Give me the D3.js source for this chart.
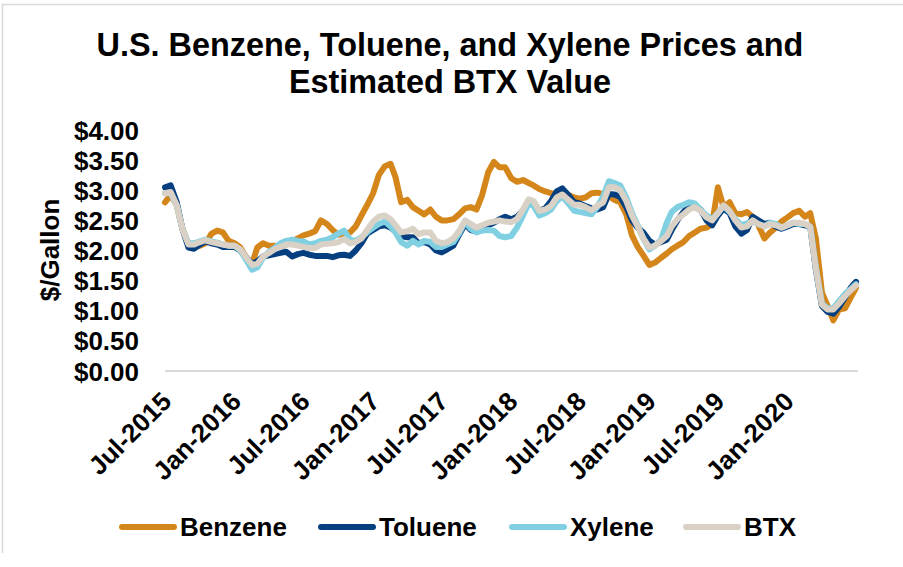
<!DOCTYPE html>
<html><head><meta charset="utf-8">
<script src="https://cdn.jsdelivr.net/npm/d3@7"></script>
<style>
body{margin:0;background:#fff}
svg{display:block}
text{font-family:"Liberation Sans",Arial,sans-serif;font-weight:bold;fill:#000}
</style>
</head><body>
<svg id="c" width="903" height="567"></svg>
<script>
const titleLines = ["U.S. Benzene, Toluene, and Xylene Prices and", "Estimated BTX Value"];
const yAxisTitle = "$/Gallon";
const yTicks = [0, 0.5, 1, 1.5, 2, 2.5, 3, 3.5, 4];
const xTickLabels = ["Jul-2015","Jan-2016","Jul-2016","Jan-2017","Jul-2017","Jan-2018","Jul-2018","Jan-2019","Jul-2019","Jan-2020"];
const seriesNames = ["Benzene","Toluene","Xylene","BTX"];
const seriesColors = ["#D4861A","#063F80","#80D0E2","#D9D1C5"];

const dates = [
"2015-07-01","2015-07-16","2015-08-01","2015-08-16","2015-09-01","2015-09-16","2015-10-01","2015-10-16","2015-11-01","2015-11-16","2015-12-01","2015-12-16",
"2016-01-01","2016-01-16","2016-02-01","2016-02-16","2016-03-01","2016-03-16","2016-04-01","2016-04-16","2016-05-01","2016-05-16","2016-06-01","2016-06-16",
"2016-07-01","2016-07-16","2016-08-01","2016-08-16","2016-09-01","2016-09-16","2016-10-01","2016-10-16","2016-11-01","2016-11-16","2016-12-01","2016-12-16",
"2017-01-01","2017-01-16","2017-02-01","2017-02-16","2017-03-01","2017-03-16","2017-04-01","2017-04-16","2017-05-01","2017-05-16","2017-06-01","2017-06-16",
"2017-07-01","2017-07-16","2017-08-01","2017-08-16","2017-09-01","2017-09-16","2017-10-01","2017-10-16","2017-11-01","2017-11-16","2017-12-01","2017-12-16",
"2018-01-01","2018-01-16","2018-02-01","2018-02-16","2018-03-01","2018-03-16","2018-04-01","2018-04-16","2018-05-01","2018-05-16","2018-06-01","2018-06-16",
"2018-07-01","2018-07-16","2018-08-01","2018-08-16","2018-09-01","2018-09-16","2018-10-01","2018-10-16","2018-11-01","2018-11-16","2018-12-01","2018-12-16",
"2019-01-01","2019-01-16","2019-02-01","2019-02-16","2019-03-01","2019-03-16","2019-04-01","2019-04-16","2019-05-01","2019-05-16","2019-06-01","2019-06-16",
"2019-07-01","2019-07-16","2019-08-01","2019-08-16","2019-09-01","2019-09-16","2019-10-01","2019-10-16","2019-11-01","2019-11-16","2019-12-01","2019-12-16",
"2020-01-01","2020-01-16","2020-02-01","2020-02-16","2020-03-01","2020-03-16","2020-04-01","2020-04-16","2020-05-01","2020-05-16","2020-06-01","2020-06-16",
"2020-06-30"];

const benzene = [
2.80,2.92,2.75,2.36,2.10,2.08,2.08,2.12,2.28,2.33,2.30,2.16,
2.12,2.05,1.88,1.78,2.05,2.12,2.08,2.08,2.06,2.10,2.15,2.20,
2.25,2.28,2.32,2.50,2.44,2.34,2.26,2.28,2.30,2.40,2.58,2.75,
2.95,3.25,3.40,3.44,3.22,2.80,2.84,2.72,2.66,2.60,2.68,2.56,
2.50,2.50,2.52,2.60,2.70,2.72,2.68,2.92,3.30,3.47,3.38,3.38,
3.20,3.14,3.17,3.12,3.08,3.02,2.98,2.95,2.94,2.93,2.92,2.88,
2.86,2.88,2.95,2.96,2.94,2.90,2.84,2.80,2.60,2.25,2.06,1.92,
1.76,1.80,1.88,1.95,2.02,2.08,2.14,2.24,2.30,2.36,2.38,2.44,
3.05,2.72,2.80,2.62,2.60,2.64,2.56,2.42,2.20,2.30,2.38,2.48,
2.55,2.62,2.66,2.56,2.62,2.20,1.30,1.08,0.84,1.02,1.04,1.22,
1.38];

const toluene = [
3.05,3.08,2.80,2.36,2.05,2.03,2.10,2.15,2.12,2.10,2.06,2.06,
2.06,2.00,1.88,1.78,1.82,1.90,1.92,1.94,1.96,1.98,1.90,1.94,
1.96,1.93,1.91,1.91,1.91,1.89,1.92,1.93,1.91,2.00,2.12,2.28,
2.34,2.40,2.42,2.38,2.32,2.24,2.22,2.22,2.12,2.14,2.10,2.00,
1.97,2.02,2.08,2.26,2.44,2.34,2.32,2.36,2.42,2.46,2.52,2.56,
2.52,2.56,2.66,2.82,2.80,2.66,2.70,2.82,2.98,3.03,2.92,2.80,
2.78,2.74,2.70,2.68,2.72,2.94,2.93,2.89,2.72,2.50,2.38,2.30,
2.16,2.10,2.14,2.18,2.34,2.50,2.64,2.74,2.74,2.68,2.50,2.42,
2.58,2.70,2.62,2.40,2.28,2.34,2.56,2.50,2.44,2.46,2.40,2.36,
2.40,2.44,2.44,2.42,2.40,1.68,1.08,0.98,0.95,1.06,1.22,1.38,
1.48];

const xylene = [
2.95,2.95,2.75,2.36,2.12,2.12,2.15,2.18,2.15,2.13,2.10,2.08,
2.08,2.00,1.84,1.68,1.72,1.88,1.98,2.04,2.12,2.16,2.18,2.16,
2.15,2.10,2.12,2.16,2.18,2.22,2.28,2.33,2.18,2.16,2.22,2.30,
2.38,2.44,2.48,2.40,2.30,2.14,2.08,2.16,2.10,2.16,2.14,2.06,
2.06,2.10,2.14,2.28,2.48,2.36,2.30,2.33,2.34,2.33,2.24,2.22,
2.24,2.38,2.58,2.78,2.74,2.58,2.62,2.68,2.82,2.90,2.78,2.66,
2.64,2.62,2.60,2.72,2.90,3.15,3.12,3.08,2.88,2.62,2.42,2.20,
2.02,2.08,2.18,2.46,2.64,2.72,2.76,2.80,2.78,2.68,2.58,2.52,
2.62,2.74,2.64,2.52,2.42,2.45,2.48,2.44,2.40,2.46,2.44,2.38,
2.42,2.46,2.44,2.44,2.40,1.72,1.12,1.04,1.04,1.16,1.28,1.36,
1.44];

const btx = [
2.95,2.97,2.75,2.36,2.10,2.10,2.14,2.17,2.14,2.12,2.10,2.08,
2.08,2.02,1.88,1.76,1.78,1.90,1.96,2.02,2.06,2.10,2.10,2.08,
2.06,2.04,2.04,2.10,2.11,2.12,2.14,2.19,2.12,2.14,2.20,2.34,
2.48,2.56,2.58,2.52,2.42,2.30,2.32,2.36,2.27,2.30,2.30,2.16,
2.12,2.14,2.20,2.32,2.50,2.44,2.38,2.42,2.46,2.48,2.50,2.48,
2.47,2.52,2.68,2.85,2.82,2.66,2.68,2.74,2.88,2.93,2.84,2.76,
2.76,2.72,2.67,2.74,2.80,3.05,3.05,3.00,2.82,2.58,2.40,2.20,
2.05,2.08,2.16,2.24,2.40,2.52,2.60,2.68,2.72,2.66,2.55,2.50,
2.62,2.75,2.66,2.50,2.38,2.40,2.50,2.44,2.40,2.44,2.42,2.38,
2.42,2.46,2.46,2.44,2.40,1.70,1.10,1.02,1.02,1.12,1.24,1.34,
1.42];

const seriesValues = [benzene, toluene, xylene, btx];

const svg = d3.select("#c");
const parse = d3.timeParse("%Y-%m-%d");
const dts = dates.map(parse);

const x = d3.scaleTime().domain([dts[0], dts[dts.length-1]]).range([165, 856]);
const y = d3.scaleLinear().domain([0, 4]).range([371, 130]);

// frame lines
svg.append("line").attr("x1",2.5).attr("x2",2.5).attr("y1",4).attr("y2",553).attr("stroke","#d9d9d9").attr("stroke-width",1.5);
svg.append("line").attr("x1",2).attr("x2",903).attr("y1",4.5).attr("y2",4.5).attr("stroke","#d9d9d9").attr("stroke-width",1.5);

// title
svg.append("g").selectAll("text").data(titleLines).join("text")
  .attr("x", 450).attr("y", (d,i) => 56 + i*37)
  .attr("text-anchor","middle").style("font-size","32.4px").text(d => d);

// y axis
const yAxis = d3.axisLeft(y).tickValues(yTicks).tickSize(0).tickPadding(0)
  .tickFormat(d => "$" + d3.format(".2f")(d));
const gy = svg.append("g").attr("transform","translate(139,0)").call(yAxis);
gy.select(".domain").remove();
gy.selectAll("text").style("font-size","26px").attr("dy","0.35em");

svg.append("text").attr("transform","translate(59,250) rotate(-90)")
  .attr("text-anchor","middle").style("font-size","26px").text(yAxisTitle);

// x axis baseline
svg.append("line").attr("x1",165).attr("x2",858).attr("y1",y(0)).attr("y2",y(0))
  .attr("stroke","#d9d9d9").attr("stroke-width",2);

// x tick labels
const tickDates = xTickLabels.map(d3.timeParse("%b-%Y"));
svg.append("g").selectAll("text").data(tickDates).join("text")
  .attr("transform", d => `translate(${x(d)+8},${y(0)+32}) rotate(-45)`)
  .attr("text-anchor","end").style("font-size","26px")
  .text((d,i) => xTickLabels[i]);

// lines
const line = d3.line().x((d,i) => x(dts[i])).y(d => y(d)).curve(d3.curveLinear);
svg.append("g").selectAll("path").data(seriesValues).join("path")
  .attr("d", d => line(d)).attr("fill","none")
  .attr("stroke", (d,i) => seriesColors[i]).attr("stroke-width", 6)
  .attr("stroke-linejoin","round").attr("stroke-linecap","round");

// legend
const legendX = [122, 321, 512, 686];
const lg = svg.append("g").selectAll("g").data(seriesNames).join("g")
  .attr("transform", (d,i) => `translate(${legendX[i]},527)`);
lg.append("line").attr("x1",0).attr("x2",52).attr("y1",0).attr("y2",0)
  .attr("stroke",(d,i) => seriesColors[i]).attr("stroke-width",6).attr("stroke-linecap","round");
lg.append("text").attr("x",58).attr("y",0).attr("dy","0.35em").style("font-size","26px").text(d => d);
</script>
</body></html>
